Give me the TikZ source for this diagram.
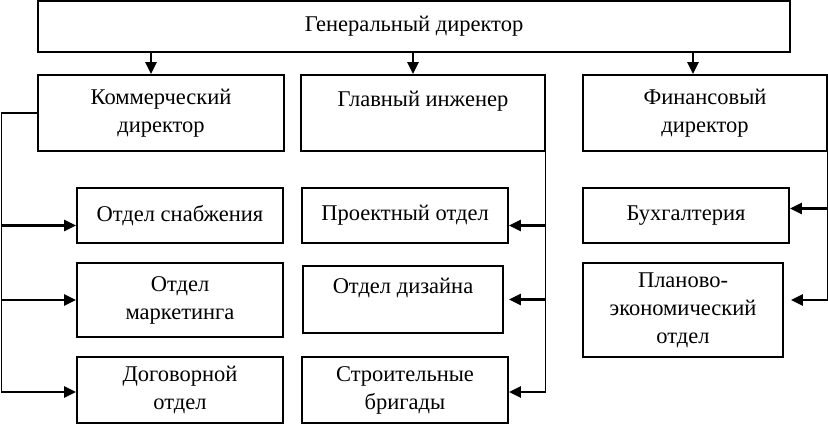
\documentclass[tikz,border=0pt]{standalone}
\usepackage{fontspec}
\setmainfont{Liberation Serif}
\usetikzlibrary{arrows.meta}
\tikzset{
  box/.style={draw, line width=1.8pt, inner sep=0pt, align=center,
    font=\fontsize{22.5}{28}\selectfont},
  link/.style={line width=1.1pt},
  arr/.style={line width=2.4pt, -{Triangle[length=12pt,width=11pt]}}
}
\begin{document}
\begin{tikzpicture}[x=1pt,y=-1pt]
\useasboundingbox (0,0) rectangle (828,433);
% top level
\node[box, minimum width=752pt, minimum height=51pt] (gen) at (414,26.5) {Генеральный директор};
\node[box, minimum width=246pt, minimum height=76pt] (kom) at (161,113) {Коммерческий\\директор};
\node[box, minimum width=244pt, minimum height=76pt] (glav) at (423,113) {Главный инженер\\\mbox{}};
\node[box, minimum width=244pt, minimum height=76pt] (fin) at (705,113) {Финансовый\\директор};
\draw[arr] ([xshift=-10pt]kom.north |- gen.south) -- ([xshift=-10pt]kom.north);
\draw[arr] ([xshift=-10pt]glav.north |- gen.south) -- ([xshift=-10pt]glav.north);
\draw[arr] ([xshift=-12pt]fin.north |- gen.south) -- ([xshift=-12pt]fin.north);
% departments
\node[box, minimum width=206pt, minimum height=55pt] (snab) at (180,215.5) {Отдел снабжения};
\node[box, minimum width=206pt, minimum height=74pt] (mark) at (180,300) {Отдел\\маркетинга};
\node[box, minimum width=206pt, minimum height=66pt] (dog) at (180,390) {Договорной\\отдел};
\node[box, minimum width=206pt, minimum height=55pt] (proj) at (405,215.5) {Проектный отдел};
\node[box, minimum width=200pt, minimum height=67pt] (diz) at (403,299.5) {Отдел дизайна\\\mbox{}};
\node[box, minimum width=206pt, minimum height=66pt] (stroi) at (405,390) {Строительные\\бригады};
\node[box, minimum width=206pt, minimum height=55pt] (buh) at (686,215.5) {Бухгалтерия};
\node[box, minimum width=200pt, minimum height=94pt] (plan) at (683,310) {Планово-\\экономический\\отдел};
% arrow ends
\coordinate (snabin) at ([yshift=-10pt]snab.west);
\coordinate (markin) at (mark.west);
\coordinate (dogin) at ([yshift=-2pt]dog.west);
\coordinate (projin) at ([yshift=-10pt]proj.east);
\coordinate (dizin) at ([xshift=5pt]diz.east);
\coordinate (stroiin) at ([yshift=-2pt]stroi.east);
\coordinate (buhin) at ([yshift=7pt]buh.east);
\coordinate (planin) at ([xshift=7pt,yshift=10pt]plan.east);
% commercial branch
\coordinate (kbus) at ([xshift=-36pt]kom.west);
\draw[link] (kom.west) -- (kbus) -- (kbus |- dogin);
\foreach \t in {snabin,markin,dogin}
  \draw[arr] (kbus |- \t) -- (\t);
% engineer branch
\coordinate (gbus) at (glav.south east);
\draw[link] (gbus) -- (gbus |- stroiin);
\foreach \t in {projin,dizin,stroiin}
  \draw[arr] (gbus |- \t) -- (\t);
% finance branch
\coordinate (fbus) at (fin.south east);
\draw[link] (fbus) -- (fbus |- planin);
\foreach \t in {buhin,planin}
  \draw[arr] (fbus |- \t) -- (\t);
\end{tikzpicture}
\end{document}
